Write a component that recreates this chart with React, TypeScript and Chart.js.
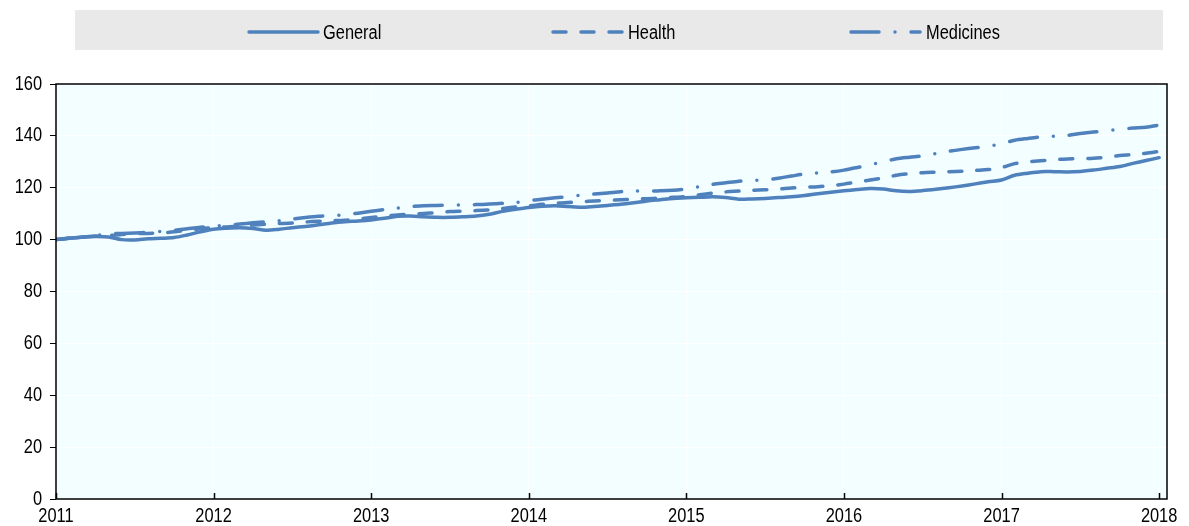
import React, { useEffect, useRef } from "react";
import { Chart, registerables } from "chart.js";

Chart.register(...registerables);

const startYear = 2011;
const yearTicks = [2011, 2012, 2013, 2014, 2015, 2016, 2017, 2018];
const yTicks = [0, 20, 40, 60, 80, 100, 120, 140, 160];
const seriesNames = ["General", "Health", "Medicines"];

// Monthly index values, Jan 2011 .. Jan 2018
const general = [
  100.0, 100.5, 100.9, 101.2, 101.0, 100.0, 99.9, 100.3, 100.5, 100.8, 101.8, 103.0,
  104.0, 104.4, 104.6, 104.3, 103.6, 104.0, 104.6, 105.1, 105.7, 106.4, 106.9, 107.2,
  107.6, 108.2, 109.0, 109.1, 108.8, 108.6, 108.6, 108.8, 109.1, 109.8, 110.9, 111.7,
  112.4, 112.9, 113.1, 112.8, 112.5, 112.8, 113.2, 113.6, 114.2, 114.9, 115.4, 115.9,
  116.1, 116.3, 116.5, 116.2, 115.6, 115.7, 115.9, 116.2, 116.5, 117.0, 117.7, 118.3,
  118.8, 119.3, 119.7, 119.5, 118.8, 118.6, 118.9, 119.4, 120.0, 120.7, 121.5, 122.3,
  123.0, 124.8, 125.6, 126.2, 126.2, 126.1, 126.3, 126.8, 127.5, 128.2, 129.4, 130.5,
  131.6,
];
const health = [
  100.0, 100.6, 101.0, 101.4, 101.6, 102.0, 102.3, 102.4, 102.6, 103.0, 103.6, 104.2,
  104.6, 104.9, 105.2, 105.6, 106.0, 106.2, 106.4, 106.8, 107.1, 107.3, 107.5, 108.0,
  108.5, 109.0, 109.5, 109.8, 110.1, 110.4, 110.8, 111.0, 111.2, 111.5, 112.0, 112.6,
  113.0, 113.6, 114.0, 114.3, 114.6, 114.9, 115.1, 115.4, 115.6, 115.8, 116.0, 116.3,
  116.6, 117.3, 117.9, 118.4, 118.7, 119.0, 119.2, 119.5, 119.9, 120.2, 120.4, 120.8,
  121.4, 122.2, 123.0, 123.8, 124.8, 125.4, 125.8, 126.0, 126.2, 126.4, 126.7, 127.0,
  127.8, 129.3, 130.0, 130.4, 130.8, 131.1, 131.2, 131.4, 131.8, 132.4, 132.8, 133.3,
  134.0,
];
const medicines = [
  100.0, 100.5, 101.0, 101.6, 102.2, 102.4, 102.6, 102.8, 103.2, 103.6, 104.2, 104.8,
  105.2, 105.6, 106.0, 106.5, 106.9, 107.3, 107.9, 108.5, 109.0, 109.3, 109.6, 110.2,
  110.9, 111.6, 112.2, 112.7, 113.1, 113.2, 113.3, 113.4, 113.5, 113.7, 114.0, 114.3,
  115.0, 115.6, 116.1, 116.6, 117.1, 117.6, 118.0, 118.5, 118.7, 118.8, 118.8, 119.0,
  119.5, 120.4, 121.3, 121.9, 122.5, 122.8, 123.0, 123.7, 124.5, 125.3, 125.7, 126.1,
  126.8, 127.8, 128.9, 130.0, 131.2, 131.8, 132.3, 133.2, 134.1, 134.8, 135.4, 136.0,
  137.0, 138.3, 139.0, 139.6, 139.9, 140.2, 140.9, 141.5, 142.0, 142.6, 143.0, 143.3,
  144.2,
];

const BLUE = "#4F81BD";
const FONT = '"Liberation Sans", Arial, sans-serif';
const FONT_SIZE = 20;
const SQUEEZE = 0.82; // narrow-font look
const dashes = [[], [13, 15], [28, 16, 0, 16]];

const toPoints = (arr: number[]) => arr.map((v, i) => ({ x: startYear + i / 12, y: v }));

function drawNarrow(ctx: any, text: string, x: number, y: number, align: string) {
  ctx.save();
  ctx.translate(x, y);
  ctx.scale(SQUEEZE, 1);
  ctx.textAlign = align;
  ctx.textBaseline = "middle";
  ctx.fillText(text, 0, 0);
  ctx.restore();
}

const framePlugin = {
  id: "frame",
  beforeDraw(chart: any) {
    const { ctx, chartArea: a } = chart;
    ctx.save();
    ctx.fillStyle = "#F2FEFF";
    ctx.fillRect(a.left, a.top, a.right - a.left, a.bottom - a.top);
    ctx.restore();
  },
  afterDraw(chart: any) {
    const { ctx, chartArea: a } = chart;
    const xs = chart.scales.x;
    const ys = chart.scales.y;
    ctx.save();
    ctx.strokeStyle = "#000";
    ctx.lineWidth = 1.5;
    ctx.strokeRect(a.left, a.top, a.right - a.left, a.bottom - a.top);
    ctx.beginPath();
    yearTicks.forEach((y) => {
      const px = Math.round(xs.getPixelForValue(y)) + 0.5;
      ctx.moveTo(px, a.bottom);
      ctx.lineTo(px, a.bottom - 6);
    });
    ctx.stroke();
    ctx.fillStyle = "#000";
    ctx.font = `${FONT_SIZE}px ${FONT}`;
    yearTicks.forEach((y) => {
      drawNarrow(ctx, String(y), xs.getPixelForValue(y), a.bottom + 17, "center");
    });
    yTicks.forEach((v) => {
      drawNarrow(ctx, String(v), a.left - 14, ys.getPixelForValue(v), "right");
    });
    ctx.restore();
  },
};

function Legend() {
  const items = [
    { x: 249, tx: 323 },
    { x: 553, tx: 628 },
    { x: 851, tx: 926 },
  ];
  return (
    <div
      style={{
        position: "absolute",
        left: 75,
        top: 10,
        width: 1088,
        height: 40,
        background: "#E9E9E9",
      }}
    >
      {seriesNames.map((name, i) => (
        <React.Fragment key={name}>
          <svg
            style={{ position: "absolute", left: items[i].x - 75 - 2, top: 16 }}
            width={74}
            height={12}
          >
            <line
              x1={2}
              y1={6}
              x2={71}
              y2={6}
              stroke={BLUE}
              strokeWidth={3.5}
              strokeLinecap="round"
              strokeDasharray={dashes[i].length ? dashes[i].join(" ") : undefined}
            />
          </svg>
          <span
            style={{
              position: "absolute",
              left: items[i].tx - 75,
              top: 2,
              lineHeight: "40px",
              fontFamily: FONT,
              fontSize: FONT_SIZE,
              color: "#000",
              whiteSpace: "nowrap",
              transform: `scaleX(${SQUEEZE})`,
              transformOrigin: "left center",
            }}
          >
            {name}
          </span>
        </React.Fragment>
      ))}
    </div>
  );
}

export default function App() {
  const ref = useRef<HTMLCanvasElement | null>(null);
  useEffect(() => {
    if (!ref.current) return;
    const series = [general, health, medicines];
    const chart = new Chart(ref.current, {
      type: "line",
      data: {
        datasets: seriesNames.map((name, i) => ({
          label: name,
          data: toPoints(series[i]),
          borderColor: BLUE,
          borderWidth: 3.5,
          borderDash: dashes[i],
          borderCapStyle: "round",
          borderJoinStyle: "round",
          pointRadius: 0,
          tension: 0.3,
          fill: false,
        })),
      },
      plugins: [framePlugin],
      options: {
        animation: false,
        responsive: false,
        devicePixelRatio: 1,
        layout: { padding: { top: 84, right: 22, left: 0, bottom: 0 } },
        plugins: { legend: { display: false }, tooltip: { enabled: false } },
        scales: {
          x: {
            type: "linear",
            min: 2011,
            max: 2018.05,
            afterBuildTicks: (s: any) => {
              s.ticks = yearTicks.map((v) => ({ value: v }));
            },
            afterFit: (s: any) => {
              s.height = 27;
            },
            grid: { color: "#FFFFFF", lineWidth: 1, drawTicks: false },
            border: { display: false },
            ticks: { display: false },
          },
          y: {
            min: 0,
            max: 160,
            afterBuildTicks: (s: any) => {
              s.ticks = yTicks.map((v) => ({ value: v }));
            },
            afterFit: (s: any) => {
              s.width = 56;
            },
            grid: { color: "#FFFFFF", lineWidth: 1, tickColor: "#000", tickLength: 6 },
            border: { display: false },
            ticks: { display: false },
          },
        },
      },
    } as any);
    return () => chart.destroy();
  }, []);
  return (
    <div style={{ position: "fixed", left: 0, top: 0, width: 1189, height: 526, background: "#fff" }}>
      <canvas ref={ref} width={1189} height={526} style={{ display: "block" }} />
      <Legend />
    </div>
  );
}
